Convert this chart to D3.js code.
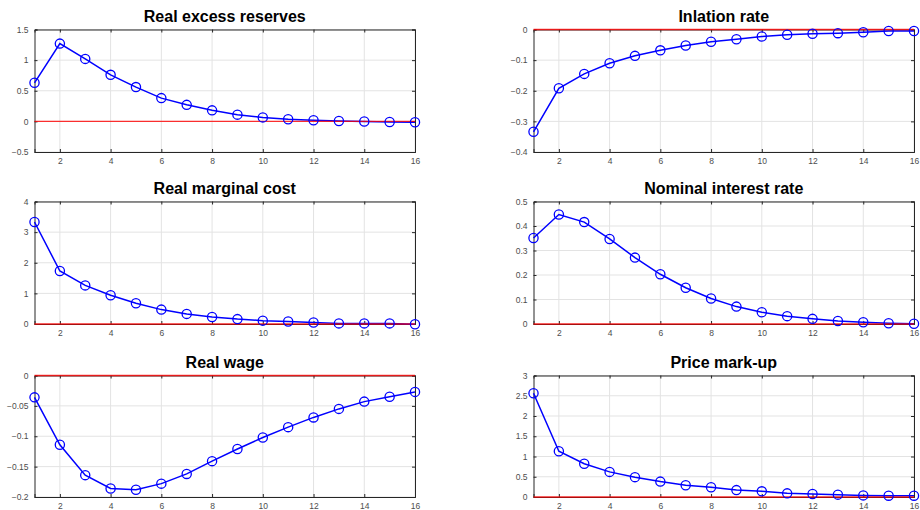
<!DOCTYPE html>
<html><head><meta charset="utf-8">
<script src="https://cdn.jsdelivr.net/npm/d3@7"></script>
<style>
body{margin:0;background:#fff;}
svg{display:block;font-family:"Liberation Sans",Arial,Helvetica,sans-serif;}
</style></head>
<body>
<svg id="chart" width="920" height="510"></svg>
<script>
const periods = d3.range(1, 17);
const xTicks = [2,4,6,8,10,12,14,16];

const titles = ["Real excess reserves","Inlation rate","Real marginal cost","Nominal interest rate","Real wage","Price mark-up"];

const realExcessReserves = [0.63,1.27,1.02,0.76,0.56,0.38,0.27,0.18,0.11,0.065,0.035,0.018,0.005,-0.003,-0.01,-0.015];
const inflationRate = [-0.334,-0.192,-0.145,-0.110,-0.086,-0.068,-0.052,-0.040,-0.032,-0.023,-0.017,-0.014,-0.012,-0.009,-0.005,-0.005];
const realMarginalCost = [3.33,1.73,1.26,0.94,0.68,0.47,0.33,0.23,0.16,0.11,0.08,0.05,0.02,0.02,0.02,-0.01];
const nominalInterestRate = [0.351,0.447,0.416,0.347,0.271,0.203,0.148,0.104,0.071,0.048,0.032,0.021,0.012,0.007,0.003,0.001];
const realWage = [-0.036,-0.114,-0.164,-0.186,-0.188,-0.178,-0.162,-0.141,-0.121,-0.102,-0.085,-0.069,-0.055,-0.043,-0.035,-0.027];
const priceMarkup = [2.56,1.13,0.82,0.62,0.49,0.38,0.29,0.24,0.17,0.14,0.09,0.075,0.058,0.04,0.033,0.033];

const yDomains = [[-0.5,1.5],[-0.4,0],[0,4],[0,0.5],[-0.2,0],[0,3]];
const yTicks = [
  [-0.5,0,0.5,1,1.5],
  [-0.4,-0.3,-0.2,-0.1,0],
  [0,1,2,3,4],
  [0,0.1,0.2,0.3,0.4,0.5],
  [-0.2,-0.15,-0.1,-0.05,0],
  [0,0.5,1,1.5,2,2.5,3]
];
const series = [realExcessReserves, inflationRate, realMarginalCost, nominalInterestRate, realWage, priceMarkup];

const svg = d3.select("#chart");
const colX = [[34.5,415],[533.5,914]];
const rowY = [[29.5,152],[201.5,324],[375.5,497]];

series.forEach((vals, i) => {
  const col = i % 2, row = Math.floor(i / 2);
  const [x0, x1] = colX[col];
  const [y0, y1] = rowY[row];
  const x = d3.scaleLinear().domain([1,16]).range([x0, x1]);
  const y = d3.scaleLinear().domain(yDomains[i]).range([y1, y0]);
  const g = svg.append("g");

  // grid
  g.selectAll(".gx").data(xTicks).join("line")
    .attr("x1", d => x(d)).attr("x2", d => x(d))
    .attr("y1", y0).attr("y2", y1)
    .attr("stroke", "#e3e3e3").attr("stroke-width", 1);
  g.selectAll(".gy").data(yTicks[i]).join("line")
    .attr("x1", x0).attr("x2", x1)
    .attr("y1", d => y(d)).attr("y2", d => y(d))
    .attr("stroke", "#e3e3e3").attr("stroke-width", 1);

  // axes (inward ticks, MATLAB style)
  const axB = d3.axisBottom(x).tickValues(xTicks).tickSize(-3).tickPadding(6).tickFormat(d3.format("d"));
  const axT = d3.axisTop(x).tickValues(xTicks).tickSize(-3).tickFormat("");
  const axL = d3.axisLeft(y).tickValues(yTicks[i]).tickSize(-3).tickPadding(6).tickFormat(d => d3.format("")(+d.toFixed(2)));
  const axR = d3.axisRight(y).tickValues(yTicks[i]).tickSize(-3).tickFormat("");

  [[axB, `translate(0,${y1})`],[axT, `translate(0,${y0})`],[axL, `translate(${x0},0)`],[axR, `translate(${x1},0)`]].forEach(([ax, tr]) => {
    const a = g.append("g").attr("transform", tr).call(ax);
    a.select(".domain").attr("stroke", "#262626").attr("stroke-width", 1);
    a.selectAll(".tick line").attr("stroke", "#262626");
    a.selectAll("text").attr("fill", "#4d4d4d").style("font-size", "8.5px")
      .style("font-family", "'Liberation Sans',Arial,sans-serif");
  });

  // line
  const line = d3.line().x((d, j) => x(periods[j])).y(d => y(d));
  g.append("path").datum(vals)
    .attr("d", line).attr("fill", "none")
    .attr("stroke", "#0000ff").attr("stroke-width", 1.5);

  // zero line (drawn over axes)
  g.append("line")
    .attr("x1", x0).attr("x2", x1)
    .attr("y1", y(0)).attr("y2", y(0))
    .attr("stroke", "#ff0000").attr("stroke-opacity", 0.8).attr("stroke-width", 1.3);

  g.selectAll(".m").data(vals).join("circle")
    .attr("cx", (d, j) => x(periods[j])).attr("cy", d => y(d))
    .attr("r", 4.6).attr("fill", "none")
    .attr("stroke", "#0000ff").attr("stroke-width", 1.3);

  // title
  g.append("text")
    .attr("x", (x0 + x1) / 2).attr("y", y0 - 8)
    .attr("text-anchor", "middle")
    .style("font-size", "16px").style("font-weight", "bold")
    .attr("fill", "#000")
    .text(titles[i]);
});
</script>
</body></html>
